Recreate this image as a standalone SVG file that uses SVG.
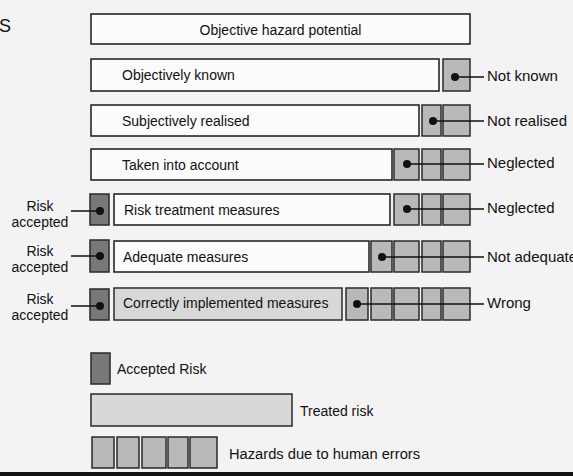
<svg xmlns="http://www.w3.org/2000/svg" width="573" height="476" viewBox="0 0 573 476">
<style>
text{font-family:"Liberation Sans",Arial,sans-serif;font-size:14px;fill:#111}
.lbl{font-size:15px}
.ra{font-size:14px}
.w{fill:#fbfbfb;stroke:#1a1a1a;stroke-width:1.5}
.h{fill:#b9b9b9;stroke:#2a2a2a;stroke-width:1.5}
.a{fill:#787878;stroke:#2a2a2a;stroke-width:1.5}
.t{fill:#d8d8d8;stroke:#2a2a2a;stroke-width:1.5}
.c{stroke:#111;stroke-width:1.5;fill:none}
.d{fill:#111}
</style>
<rect width="573" height="476" fill="#f3f3f3"/>
<rect x="0" y="472" width="573" height="4" fill="#111"/>
<text x="-1" y="32" style="font-size:18px">S</text>

<g id="row1">
<rect class="w" x="91" y="14" width="379" height="30"/>
<text x="280.5" y="35" text-anchor="middle">Objective hazard potential</text>
</g>
<g id="row2">
<rect class="w" x="91" y="59" width="348" height="32"/>
<text x="122" y="80">Objectively known</text>
<rect class="h" x="443" y="59" width="27" height="32"/>
<text class="lbl" x="487" y="81">Not known</text>
</g>
<g id="row3">
<rect class="w" x="91" y="105" width="328" height="31"/>
<text x="122" y="126">Subjectively realised</text>
<rect class="h" x="422" y="105" width="19" height="31"/>
<rect class="h" x="443" y="105" width="27" height="31"/>
<text class="lbl" x="487" y="126">Not realised</text>
</g>
<g id="row4">
<rect class="w" x="91" y="149" width="301" height="31"/>
<text x="122" y="170">Taken into account</text>
<rect class="h" x="394" y="149" width="25" height="31"/>
<rect class="h" x="422" y="149" width="19" height="31"/>
<rect class="h" x="443" y="149" width="27" height="31"/>
<text class="lbl" x="487" y="168">Neglected</text>
</g>
<g id="row5">
<rect class="a" x="90" y="194" width="19" height="31"/>
<rect class="w" x="114" y="194" width="276" height="31"/>
<text x="124" y="215">Risk treatment measures</text>
<rect class="h" x="394" y="194" width="25" height="31"/>
<rect class="h" x="422" y="194" width="19" height="31"/>
<rect class="h" x="443" y="194" width="27" height="31"/>
<text class="lbl" x="487" y="213">Neglected</text>
<text class="ra" x="40" y="211" text-anchor="middle">Risk</text>
<text class="ra" x="40" y="227" text-anchor="middle">accepted</text>
</g>
<g id="row6">
<rect class="a" x="90" y="240" width="19" height="32"/>
<rect class="w" x="114" y="241" width="255" height="31"/>
<text x="123" y="262">Adequate measures</text>
<rect class="h" x="371" y="241" width="21" height="31"/>
<rect class="h" x="394" y="241" width="25" height="31"/>
<rect class="h" x="422" y="241" width="19" height="31"/>
<rect class="h" x="443" y="241" width="27" height="31"/>
<text class="lbl" x="487" y="262">Not adequate</text>
<text class="ra" x="40" y="256" text-anchor="middle">Risk</text>
<text class="ra" x="40" y="272" text-anchor="middle">accepted</text>
</g>
<g id="row7">
<rect class="a" x="90" y="289" width="19" height="31"/>
<rect class="t" x="114" y="288" width="228" height="32"/>
<text x="123" y="308">Correctly implemented measures</text>
<rect class="h" x="346" y="288" width="22" height="32"/>
<rect class="h" x="371" y="288" width="21" height="32"/>
<rect class="h" x="394" y="288" width="25" height="32"/>
<rect class="h" x="422" y="288" width="19" height="32"/>
<rect class="h" x="443" y="288" width="27" height="32"/>
<text class="lbl" x="487" y="308">Wrong</text>
<text class="ra" x="40" y="304" text-anchor="middle">Risk</text>
<text class="ra" x="40" y="320" text-anchor="middle">accepted</text>
</g>

<g id="connectors">
<path class="c" d="M455 77H484M433 121H484M407 164H484M407 209H484M382 257H484M357 304H484M71 211H100M71 256H100M71 306H100"/>
<circle class="d" cx="455" cy="77" r="4"/>
<circle class="d" cx="433" cy="121" r="4"/>
<circle class="d" cx="407" cy="164" r="4"/>
<circle class="d" cx="407" cy="209" r="4"/>
<circle class="d" cx="382" cy="257" r="4"/>
<circle class="d" cx="357" cy="304" r="4"/>
<circle class="d" cx="100" cy="211" r="4"/>
<circle class="d" cx="100" cy="256" r="4"/>
<circle class="d" cx="100" cy="306" r="4"/>
</g>

<g id="legend-accepted">
<rect class="a" x="91" y="353" width="19" height="31"/>
<text x="117" y="374">Accepted Risk</text>
</g>
<g id="legend-treated">
<rect class="t" x="91" y="394" width="201" height="32"/>
<text x="300" y="416">Treated risk</text>
</g>
<g id="legend-hazards">
<rect class="h" x="92" y="437" width="22" height="31"/>
<rect class="h" x="117" y="437" width="22" height="31"/>
<rect class="h" x="142" y="437" width="24" height="31"/>
<rect class="h" x="168" y="437" width="20" height="31"/>
<rect class="h" x="190" y="437" width="27" height="31"/>
<text x="229" y="459" style="font-size:14.7px">Hazards due to human errors</text>
</g>
</svg>
